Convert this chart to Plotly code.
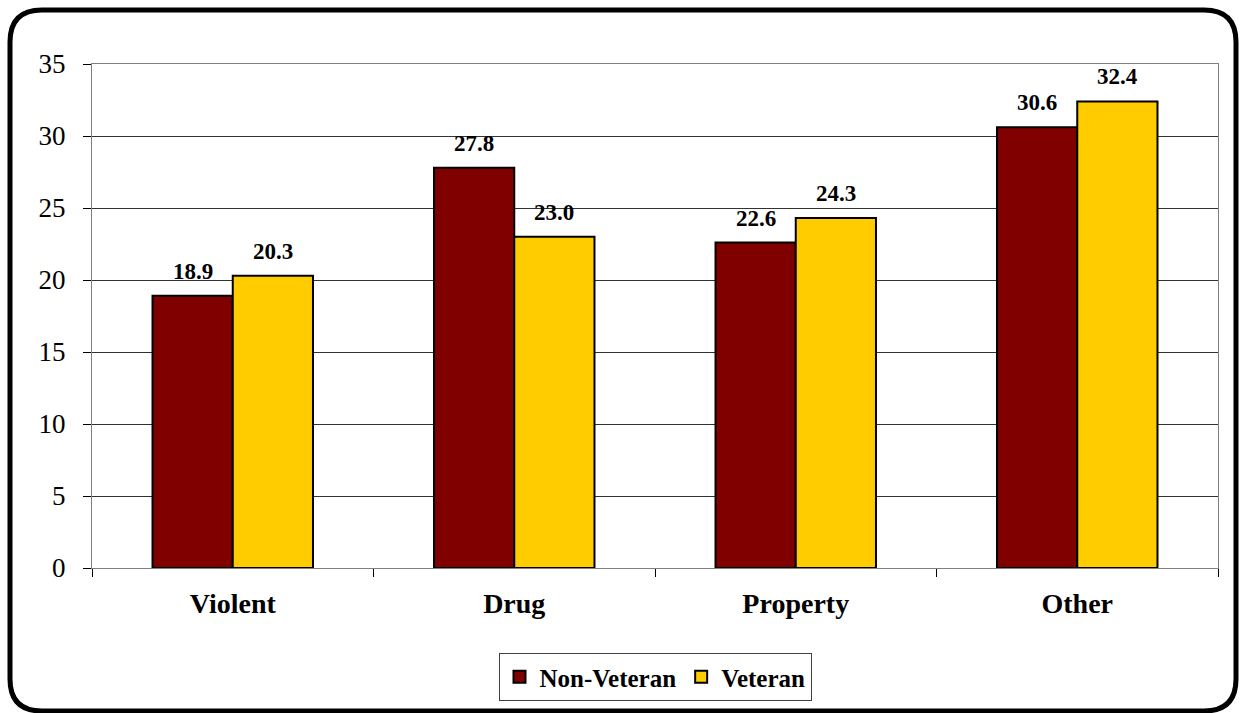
import plotly.graph_objects as go

categories = ["Violent", "Drug", "Property", "Other"]
non_veteran = [18.9, 27.8, 22.6, 30.6]
veteran = [20.3, 23.0, 24.3, 32.4]
series_names = ["Non-Veteran", "Veteran"]
y_ticks = [0, 5, 10, 15, 20, 25, 30, 35]

W, H = 1245, 713
L, R, T, B = 92, 1218, 64, 568
FONT = "Liberation Serif, Times New Roman, serif"
BAR_HALF = 40  # px offset of each bar's centre from the category centre

fig = go.Figure()
fig.add_trace(go.Bar(
    x=categories, y=non_veteran, name=f"<b>{series_names[0]}</b>",
    marker=dict(color="#800000", line=dict(color="#000000", width=2)),
))
fig.add_trace(go.Bar(
    x=categories, y=veteran, name=f"<b>{series_names[1]}</b>",
    marker=dict(color="#FFCC00", line=dict(color="#000000", width=2)),
))

annotations = []
for vals, shift in ((non_veteran, -BAR_HALF), (veteran, BAR_HALF)):
    for c, v in zip(categories, vals):
        annotations.append(dict(
            x=c, y=v, xref="x", yref="y", text=f"<b>{v:.1f}</b>", showarrow=False,
            xshift=shift, yshift=10, yanchor="bottom", xanchor="center",
            font=dict(family=FONT, size=23, color="#000000"),
        ))

# rounded outer frame in paper coordinates
pw, ph = R - L, B - T
def px(x):
    return (x - L) / pw
def py(y):
    return (B - y) / ph
x0, x1, y0, y1, r = 10, 1236, 10, 711, 32
path = (
    f"M {px(x0+r)},{py(y0)} L {px(x1-r)},{py(y0)} "
    f"Q {px(x1)},{py(y0)} {px(x1)},{py(y0+r)} "
    f"L {px(x1)},{py(y1-r)} Q {px(x1)},{py(y1)} {px(x1-r)},{py(y1)} "
    f"L {px(x0+r)},{py(y1)} Q {px(x0)},{py(y1)} {px(x0)},{py(y1-r)} "
    f"L {px(x0)},{py(y0+r)} Q {px(x0)},{py(y0)} {px(x0+r)},{py(y0)} Z"
)

fig.update_layout(
    width=W, height=H,
    margin=dict(l=L, r=W - R, t=T, b=H - B),
    paper_bgcolor="white", plot_bgcolor="white",
    barmode="group", bargap=0.43, bargroupgap=0,
    font=dict(family=FONT, color="#000000"),
    showlegend=True,
    annotations=annotations,
    legend=dict(
        orientation="h", x=0.5, xanchor="center", y=py(653), yanchor="top",
        bordercolor="#404040", borderwidth=1, bgcolor="white",
        font=dict(family=FONT, size=25, color="#000000"),
        itemwidth=30, traceorder="normal",
    ),
    shapes=[dict(type="path", xref="paper", yref="paper", path=path,
                 line=dict(color="#000000", width=5), layer="above")],
    xaxis=dict(
        type="category", showgrid=False, tickson="boundaries",
        ticks="outside", ticklen=8, tickcolor="#000000", tickwidth=1,
        showline=True, linecolor="#808080", linewidth=1, mirror=True,
        tickfont=dict(family=FONT, size=28, color="#000000"),
        ticklabelstandoff=10,
        tickvals=categories, ticktext=[f"<b>{c}</b>" for c in categories],
    ),
    yaxis=dict(
        range=[0, 35], tickvals=y_ticks, showgrid=True, gridcolor="#333333", gridwidth=1,
        ticks="outside", ticklen=8, tickcolor="#000000",
        showline=True, linecolor="#808080", linewidth=1, mirror=True,
        zeroline=False,
        tickfont=dict(family=FONT, size=27, color="#000000"),
        ticklabelstandoff=12,
    ),
)

fig.write_html("out.html")
